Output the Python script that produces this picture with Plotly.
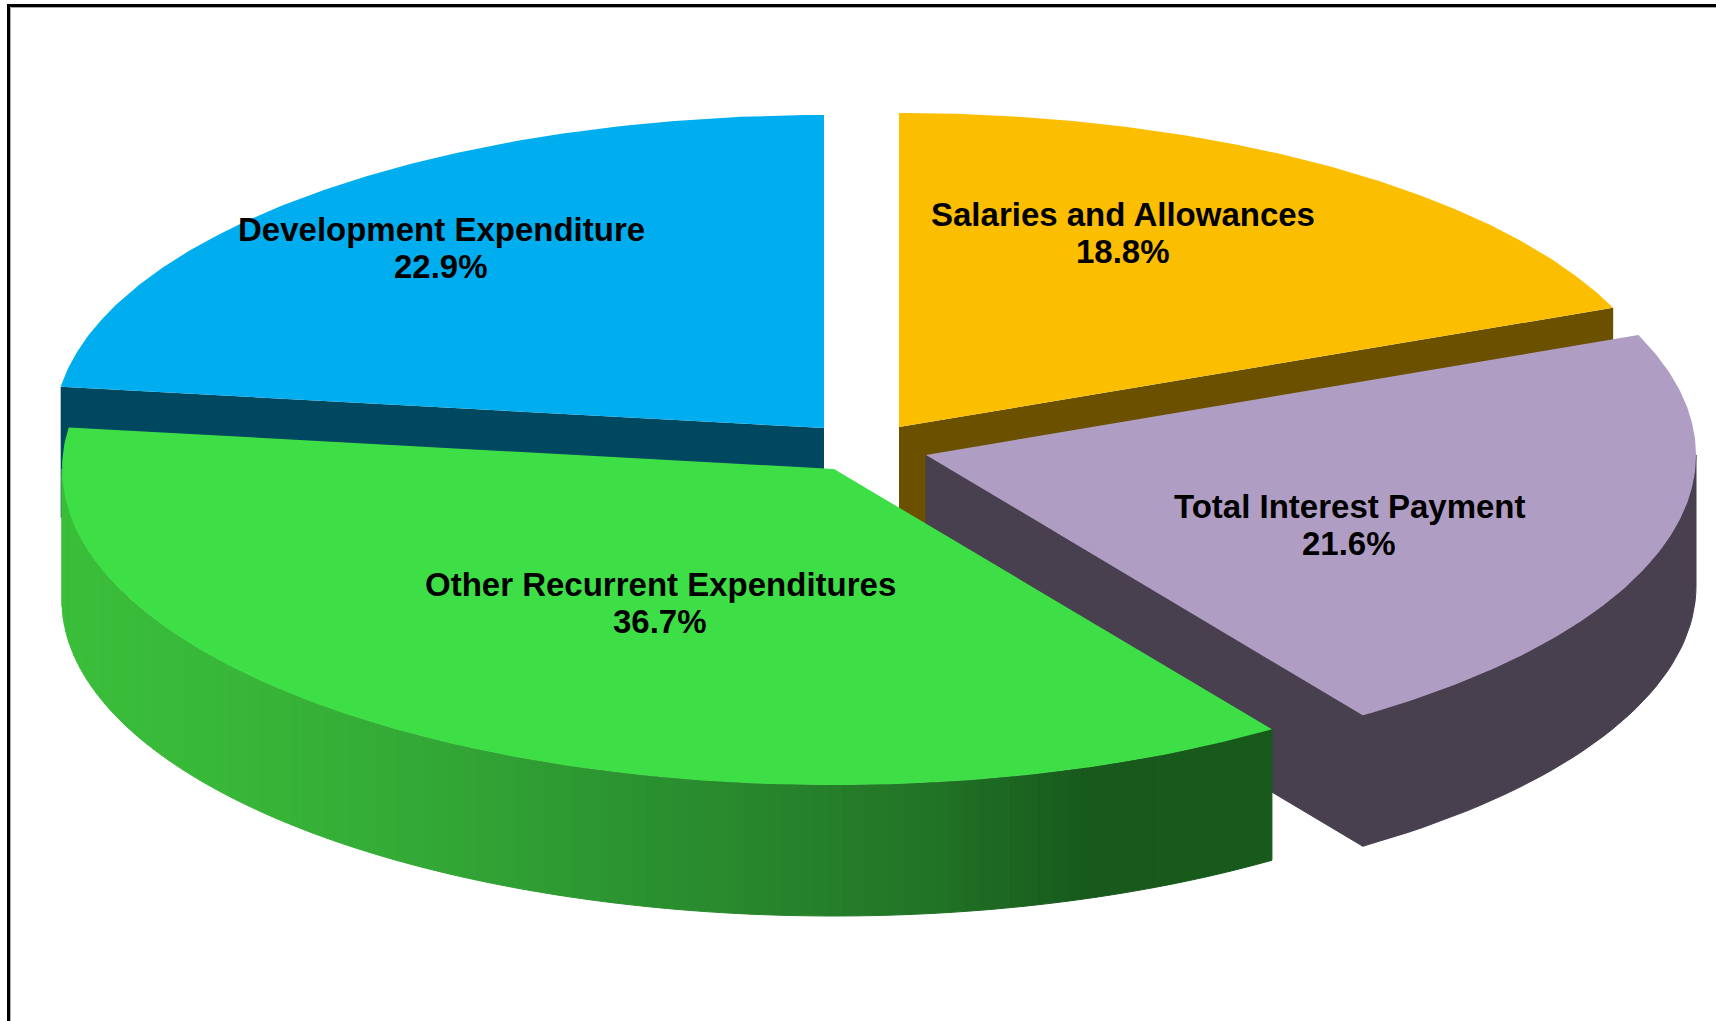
import numpy as np
import plotly.graph_objects as go

# ---- data ----
categories = ["Salaries and Allowances", "Total Interest Payment",
              "Other Recurrent Expenditures", "Development Expenditure"]
shares = [18.8, 21.6, 36.7, 22.9]

# ---- styling / projection of the tilted pie ----
top_colors = ["#FCBE00", "#B09DC4", "#3EDF46", "#00AEEF"]
side_colors = ["#6B5000", "#483F4F", None, "#004860"]
apex_x = [899, 926, 834, 824]
apex_y = [427, 455, 469, 428]
radius_x = [772, 770, 772, 770]
radius_y = [314, 316, 316, 313]
DEPTH = 131
label_x = [1123, 1349, 660, 441]
label_y = [233, 525, 603, 248]
LINE_GAP = 18.5
FONT = "Liberation Sans, Arial, sans-serif"
W, H = 1716, 1021

bounds = np.cumsum([0] + shares) * 3.6


def rim_xy(i, deg):
    t = np.radians(deg)
    return apex_x[i] + radius_x[i] * np.sin(t), apex_y[i] - radius_y[i] * np.cos(t)


def poly(fig, x, y, color, seam=False):
    fig.add_trace(go.Scatter(
        x=list(x) + [x[0]], y=list(y) + [y[0]], mode="lines", fill="toself",
        fillcolor=color, line=dict(color=color, width=1 if seam else 0),
        hoverinfo="skip", showlegend=False))


def top_face(fig, i):
    a = np.linspace(bounds[i], bounds[i + 1], 160)
    x, y = rim_xy(i, a)
    poly(fig, np.r_[apex_x[i], x], np.r_[apex_y[i], y], top_colors[i])


def radial_face(fig, i, deg, seam=False):
    x, y = rim_xy(i, deg)
    poly(fig, [apex_x[i], x, x, apex_x[i]],
         [apex_y[i], y, y + DEPTH, apex_y[i] + DEPTH], side_colors[i], seam)


def rim_face(fig, i, a0, a1, color, seam=False):
    a = np.linspace(a0, a1, 40)
    x, y = rim_xy(i, a)
    poly(fig, np.r_[x, x[::-1]], np.r_[y, y[::-1] + DEPTH], color, seam)


# shading of the green rim, as horizontal position -> colour
shade_x = [60, 250, 440, 650, 820, 950, 1030, 1085, 1280]
shade_r = [0x3B, 0x38, 0x33, 0x2B, 0x26, 0x21, 0x1C, 0x18, 0x18]
shade_g = [0xBF, 0xB6, 0xA8, 0x91, 0x80, 0x71, 0x63, 0x5A, 0x5A]
shade_b = [0x3B, 0x39, 0x36, 0x30, 0x2B, 0x26, 0x21, 0x1C, 0x1C]

fig = go.Figure()

# Salaries
radial_face(fig, 0, bounds[1])
top_face(fig, 0)
# Development
radial_face(fig, 3, bounds[3])
top_face(fig, 3)
# Interest
radial_face(fig, 1, bounds[2], seam=True)
rim_face(fig, 1, 90, bounds[2], side_colors[1], seam=True)
top_face(fig, 1)
# Other recurrent
edges = np.linspace(bounds[2], 270, 111)
for a0, a1 in zip(edges[:-1], edges[1:]):
    xm = rim_xy(2, (a0 + a1) / 2)[0]
    c = "rgb(%d,%d,%d)" % (np.interp(xm, shade_x, shade_r),
                           np.interp(xm, shade_x, shade_g),
                           np.interp(xm, shade_x, shade_b))
    rim_face(fig, 2, a0, a1, c, seam=True)
top_face(fig, 2)

for cat, v, lx, ly in zip(categories, shares, label_x, label_y):
    for txt, dy in ((cat, -LINE_GAP), (f"{v:.1f}%", LINE_GAP)):
        fig.add_annotation(x=lx, y=ly + dy, text=f"<b>{txt}</b>",
                           showarrow=False, align="center",
                           font=dict(family=FONT, size=33, color="#000000"))

# outer picture frame
fig.add_shape(type="path", path=f"M 10.5 {H} L 10.5 7.5 L {W} 7.5",
              line=dict(color="#A8A8A8", width=1), layer="above")
fig.add_shape(type="path", path=f"M 8.5 {H} L 8.5 5.5 L {W} 5.5",
              line=dict(color="#000000", width=3), layer="above")

fig.update_layout(
    width=W, height=H, margin=dict(l=0, r=0, t=0, b=0), autosize=False,
    paper_bgcolor="#FFFFFF", plot_bgcolor="#FFFFFF", showlegend=False,
    xaxis=dict(range=[0, W], visible=False, fixedrange=True),
    yaxis=dict(range=[H, 0], visible=False, fixedrange=True),
)

fig.write_html("out.html", config={"displayModeBar": False},
               post_script="document.body.style.margin='0';document.body.style.overflow='hidden';")
